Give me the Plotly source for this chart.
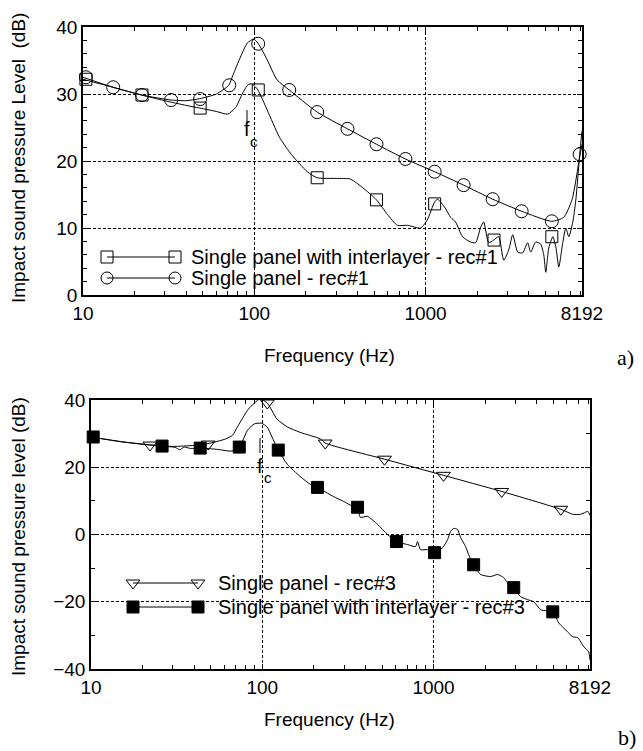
import plotly.graph_objects as go
import math

W, H = 643, 751

# ---------------- DATA: panel a) ----------------
a_circ_line_f = [10, 15, 22, 32.7, 40, 48, 60, 71, 75, 83, 91, 99, 105, 119, 136, 160, 233, 350, 517,
                 763, 1130, 1668, 2465, 3640, 5460, 6410, 7160, 7940, 8192]
a_circ_line_db = [32.5, 31.0, 29.85, 29.1, 29.0, 29.3, 30.0, 31.3, 32.8, 35.5, 37.6, 38.2, 37.6, 35.1, 32.1,
                  30.6, 27.3, 24.8, 22.5, 20.3, 18.4, 16.4, 14.3, 12.5, 11.0, 11.6, 14.2, 20.6, 22.5]
a_circ_mk_f = [10.4, 15.0, 22.1, 32.7, 48.3, 71.4, 105.4, 160, 233, 350, 517, 763, 1130, 1668, 2465,
               3640, 5460, 7940]
a_circ_mk_db = [32.5, 31.0, 29.85, 29.1, 29.25, 31.3, 37.5, 30.6, 27.3, 24.8, 22.5, 20.3, 18.4, 16.4,
                14.3, 12.5, 11.0, 21.0]

a_sq_line_f = [10, 15, 22, 30, 40, 48, 60, 70, 78, 85, 92, 97, 105, 119, 140, 162, 204, 233, 300, 364,
               430, 517, 600, 685, 785, 935, 1023, 1130, 1175, 1300, 1400, 1496, 1644, 1832, 1960, 2097,
               2185, 2336, 2500, 2673, 2860, 3058, 3228, 3451, 3690, 3945, 4110, 4395, 4700, 4898, 5035,
               5240, 5535, 5760, 5998, 6325, 6590, 6860, 7240, 7540, 7943, 8192]
a_sq_line_db = [32.2, 31.0, 29.85, 29.0, 28.3, 27.9, 27.4, 27.0, 28.0, 30.0, 31.4, 31.5, 30.6, 27.6, 23.6,
                21.2, 18.4, 17.5, 17.4, 17.3, 16.0, 14.2, 12.0, 10.4, 10.4, 10.0, 11.2, 13.9, 14.3, 13.0,
                11.6, 10.9, 8.7, 7.9, 7.8, 10.1, 10.9, 7.8, 8.2, 8.7, 5.2, 6.7, 9.0, 6.4, 6.3, 7.8, 6.4,
                7.9, 7.6, 6.0, 3.4, 7.0, 8.7, 7.2, 4.2, 7.8, 10.0, 8.7, 10.9, 14.2, 21.0, 24.5]
a_sq_mk_f = [10.4, 22.1, 48.3, 105.5, 233, 517, 1130, 2510, 5460]
a_sq_mk_db = [32.2, 29.85, 27.9, 30.6, 17.5, 14.2, 13.6, 8.2, 8.7]

# ---------------- DATA: panel b) ----------------
b_tri_line_f = [10, 15, 22, 30, 40, 48, 61, 67, 72, 83, 97, 107, 122, 140, 166, 219, 233, 517, 1143,
                2500, 5535, 6500, 7200, 7700, 7950, 8192]
b_tri_line_db = [29.0, 27.6, 26.6, 26.2, 26.5, 27.0, 28.4, 29.5, 32.2, 37.3, 40.3, 39.1, 34.3, 32.0, 30.4,
                 28.4, 27.2, 22.4, 17.6, 12.8, 7.5, 6.0, 6.0, 6.6, 6.9, 5.7]
b_tri_mk_f = [22.1, 48.3, 107, 233, 517, 1143, 2500, 5535]
b_tri_mk_db = [26.6, 26.9, 39.1, 27.2, 22.4, 17.6, 12.8, 7.5]

b_sq_line_f = [10, 15, 20, 26, 31, 33, 35, 38, 43.4, 55, 65, 72, 77, 82, 90, 99, 107, 114, 124, 140, 166,
               191, 210, 260, 297, 337, 360, 374, 411, 471, 538, 608, 705, 785, 806, 839, 922, 1014, 1130,
               1208, 1257, 1309, 1381, 1438, 1538, 1603, 1714, 1884, 2154, 2366, 2565, 2700, 2897, 3228,
               3548, 3846, 4227, 4966, 5383, 5754, 6500, 6950, 7540, 8054, 8192]
b_sq_line_db = [29.0, 27.6, 26.9, 26.3, 25.9, 25.2, 26.0, 25.6, 25.7, 25.3, 24.8, 25.3, 28.0, 31.0, 32.9,
                33.1, 31.9, 29.0, 25.1, 20.9, 17.3, 14.9, 14.0, 11.3, 9.9, 8.4, 8.1, 5.1, 5.4, 3.0, 0.0,
                -2.1, -3.0, -3.6, -2.1, -4.5, -4.5, -5.4, -3.9, -1.5, 0.9, 1.8, 1.5, -0.9, -3.6, -6.0,
                -9.0, -11.9, -12.5, -11.9, -12.8, -14.3, -15.8, -18.5, -19.4, -20.0, -22.4, -23.0, -26.3,
                -27.8, -30.4, -30.7, -33.4, -34.9, -37.3]
b_sq_mk_f = [10.3, 26.0, 43.4, 73.4, 124, 210, 360, 608, 1014, 1714, 2938, 4966]
b_sq_mk_db = [29.0, 26.3, 25.7, 26.0, 25.1, 14.0, 8.1, -2.1, -5.4, -9.0, -15.8, -23.0]

x_tickvals = [10, 100, 1000, 8192]
x_ticktext = ["10", "100", "1000", "8192"]
a_y_ticks = [0, 10, 20, 30, 40]
b_y_ticks = [-40, -20, 0, 20, 40]

legend_a = ["Single panel with interlayer - rec#1", "Single panel - rec#1"]
legend_b = ["Single panel - rec#3", "Single panel with interlayer - rec#3"]

# ---------------- LAYOUT helpers ----------------
def px_x(p):
    return p / W

def px_y(p):
    return 1 - p / H

FONT = "Liberation Sans, Arial, sans-serif"
BLACK = "#000"

fig = go.Figure()

def add_series(fx, fy, mx, my, symbol, xa, ya, msize=12):
    fig.add_trace(go.Scatter(x=fx, y=fy, mode="lines", line=dict(color=BLACK, width=1, shape="spline",
                                                                  smoothing=0.6),
                             xaxis=xa, yaxis=ya, showlegend=False, hoverinfo="skip"))
    fig.add_trace(go.Scatter(x=mx, y=my, mode="markers",
                             marker=dict(symbol=symbol, size=msize, color=BLACK,
                                         line=dict(color=BLACK, width=1)),
                             xaxis=xa, yaxis=ya, showlegend=False, hoverinfo="skip", cliponaxis=False))

add_series(a_sq_line_f, a_sq_line_db, a_sq_mk_f, a_sq_mk_db, "square-open", "x", "y", 12)
add_series(a_circ_line_f, a_circ_line_db, a_circ_mk_f, a_circ_mk_db, "circle-open", "x", "y", 13)
add_series(b_tri_line_f, b_tri_line_db, b_tri_mk_f, b_tri_mk_db, "triangle-down-open", "x2", "y2", 12)
add_series(b_sq_line_f, b_sq_line_db, b_sq_mk_f, b_sq_mk_db, "square", "x2", "y2", 12)

# legend keys on a pixel overlay axis
def legend_key(x0, x1, yp, symbol, size):
    fig.add_trace(go.Scatter(x=[x0, x1], y=[yp, yp], mode="lines+markers",
                             line=dict(color=BLACK, width=1),
                             marker=dict(symbol=symbol, size=size, color=BLACK, line=dict(color=BLACK, width=1)),
                             xaxis="x3", yaxis="y3", showlegend=False, hoverinfo="skip", cliponaxis=False))

legend_key(107, 175, 257, "square-open", 12)
legend_key(107, 175, 278, "circle-open", 12)
legend_key(133, 198, 583, "triangle-down-open", 12)
legend_key(133, 198, 607, "square", 12)

common_x = dict(type="log", tickvals=x_tickvals, ticktext=x_ticktext, showline=True, linecolor=BLACK,
                linewidth=1.5, mirror="allticks", ticks="inside", ticklen=5, tickcolor=BLACK,
                showgrid=True, gridcolor=BLACK, gridwidth=1, griddash="3px,2px", zeroline=False,
                automargin=False,
                tickfont=dict(family=FONT, size=19, color=BLACK),
                minor=dict(ticks="inside", ticklen=4, tickcolor=BLACK, dtick="D1", showgrid=False),
                range=[1, math.log10(8192)])
common_y = dict(showline=True, linecolor=BLACK, linewidth=1.5, mirror="allticks", ticks="inside",
                ticklen=5, tickcolor=BLACK, showgrid=True, gridcolor=BLACK, gridwidth=1,
                griddash="3px,2px", zeroline=False, automargin=False,
                tickfont=dict(family=FONT, size=19, color=BLACK))

fig.update_layout(
    width=W, height=H, margin=dict(l=0, r=0, t=0, b=0, autoexpand=False),
    paper_bgcolor="white", plot_bgcolor="rgba(0,0,0,0)", showlegend=False,
    xaxis=dict(**common_x, domain=[px_x(83), px_x(582)], anchor="y"),
    yaxis=dict(**common_y, domain=[px_y(295), px_y(27)], anchor="x", range=[0, 40], tickvals=a_y_ticks,
               minor=dict(ticks="inside", ticklen=4, tickcolor=BLACK, dtick=2, showgrid=False)),
    xaxis2=dict(**common_x, domain=[px_x(91), px_x(590)], anchor="y2"),
    yaxis2=dict(**common_y, domain=[px_y(669), px_y(400)], anchor="x2", range=[-40, 40], tickvals=b_y_ticks,
                minor=dict(ticks="inside", ticklen=4, tickcolor=BLACK, dtick=10, showgrid=False)),
    xaxis3=dict(domain=[0, 1], range=[0, W], visible=False, anchor="y3", fixedrange=True, automargin=False),
    yaxis3=dict(domain=[0, 1], range=[H, 0], visible=False, anchor="x3", fixedrange=True, automargin=False),
)

ann = []
def text(x, y, s, size=20, xanchor="center", family=FONT, angle=0):
    ann.append(dict(x=px_x(x), y=px_y(y), xref="paper", yref="paper", text=s, showarrow=False,
                    xanchor=xanchor, yanchor="middle", textangle=angle, borderpad=0,
                    font=dict(family=family, size=size, color=BLACK)))

text(190, 257, legend_a[0], 20, "left")
text(190, 278, legend_a[1], 20, "left")
text(217, 583, legend_b[0], 20, "left")
text(217, 607, legend_b[1], 20, "left")
text(18, 158, "Impact sound pressure Level\u00a0 (dB)", 19, angle=-90)
text(18, 537, "Impact sound pressure level (dB)", 19, angle=-90)
text(329, 355, "Frequency (Hz)", 19)
text(329, 719, "Frequency (Hz)", 19)
text(625, 358, "a)", 22, family="Liberation Serif, Times New Roman, serif")
text(627, 737, "b)", 22, family="Liberation Serif, Times New Roman, serif")
# f_c labels
text(247, 129, "f", 20)
text(254, 141, "c", 15)
text(260, 466, "f", 20)
text(268, 477, "c", 15)
fig.update_layout(annotations=ann)

# f_c marker lines (pixel overlay)
fig.add_shape(type="line", xref="x3", yref="y3", x0=247, x1=247, y0=110, y1=123, line=dict(color=BLACK, width=1))
fig.add_shape(type="line", xref="x3", yref="y3", x0=260, x1=260, y0=438, y1=453, line=dict(color=BLACK, width=1))

fig.write_html("out.html")
